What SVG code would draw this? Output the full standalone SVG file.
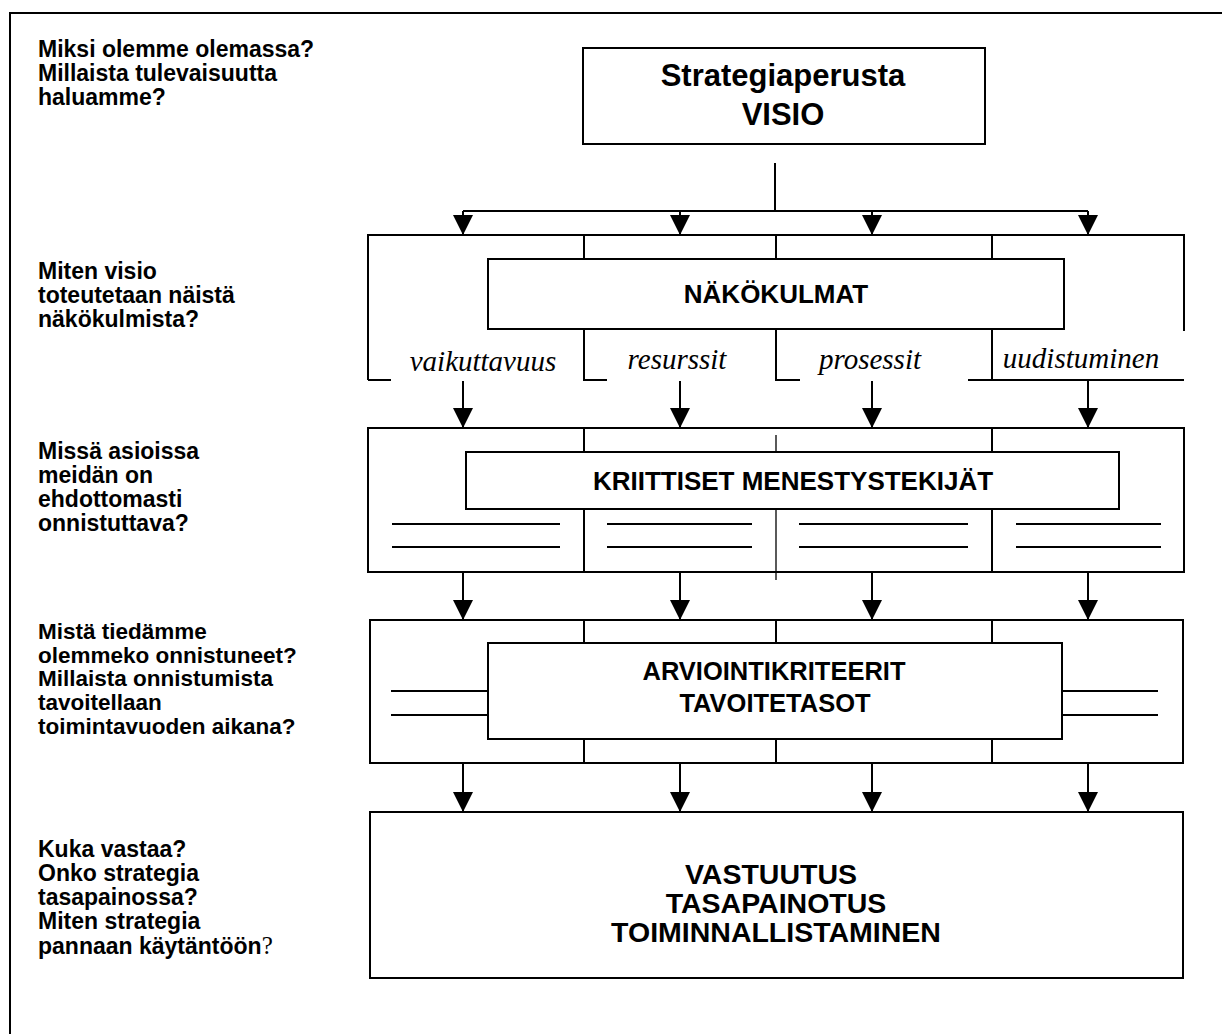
<svg xmlns="http://www.w3.org/2000/svg" width="1222" height="1034" viewBox="0 0 1222 1034">
<style>
.ln{stroke:#000;stroke-width:2;fill:none}
.thin{stroke:#000;stroke-width:1.3;fill:none}
.box{stroke:#000;stroke-width:2;fill:#fff}
.q{font-family:"Liberation Sans",Arial,sans-serif;font-weight:bold;font-size:23px;fill:#000}
.t{font-family:"Liberation Sans",Arial,sans-serif;font-weight:bold;fill:#000;text-anchor:middle}
.it{font-family:"Liberation Serif","Times New Roman",serif;font-style:italic;font-size:29px;fill:#000;text-anchor:middle}
.wb{fill:#fff;stroke:none}
</style>
<defs>
<marker id="ah" viewBox="0 0 20 20" refX="20" refY="10" markerWidth="20" markerHeight="20" markerUnits="userSpaceOnUse" orient="auto">
<path d="M0,0 L20,10 L0,20 z" fill="#000"/>
</marker>
</defs>
<rect width="1222" height="1034" fill="#fff"/>
<path class="ln" d="M10,1040 V13 H1230"/>

<g id="questions">
<text class="q" x="38" y="57">Miksi olemme olemassa?<tspan x="38" dy="24">Millaista tulevaisuutta</tspan><tspan x="38" dy="24">haluamme?</tspan></text>
<text class="q" x="38" y="279">Miten visio<tspan x="38" dy="24">toteutetaan näistä</tspan><tspan x="38" dy="24">näkökulmista?</tspan></text>
<text class="q" x="38" y="459">Missä asioissa<tspan x="38" dy="24">meidän on</tspan><tspan x="38" dy="24">ehdottomasti</tspan><tspan x="38" dy="24">onnistuttava?</tspan></text>
<text class="q" x="38" y="639" style="font-size:22.5px">Mistä tiedämme<tspan x="38" dy="23.7">olemmeko onnistuneet?</tspan><tspan x="38" dy="23.7">Millaista onnistumista</tspan><tspan x="38" dy="23.7">tavoitellaan</tspan><tspan x="38" dy="23.7">toimintavuoden aikana?</tspan></text>
<text class="q" x="38" y="857">Kuka vastaa?<tspan x="38" dy="24">Onko strategia</tspan><tspan x="38" dy="24">tasapainossa?</tspan><tspan x="38" dy="24">Miten strategia</tspan><tspan x="38" dy="25">pannaan käytäntöön<tspan style="font-family:'Liberation Serif',serif;font-weight:normal;font-size:25px">?</tspan></tspan></text>
</g>

<g id="visio">
<rect class="box" x="583" y="48" width="402" height="96"/>
<text class="t" x="783" y="86" font-size="31">Strategiaperusta</text>
<text class="t" x="783" y="125" font-size="31">VISIO</text>
</g>

<g id="nakokulmat">
<path class="ln" d="M368,380 V235 H1184 V331 M584,235 V259 M776,235 V259 M992,235 V259 M584,329 V380 M776,329 V380 M992,329 V380 M368,380 H1184"/>
<rect class="box" x="488" y="259" width="576" height="70"/>
<text class="t" x="776" y="303" font-size="26">NÄKÖKULMAT</text>
<rect class="wb" x="391" y="333" width="192" height="48"/>
<rect class="wb" x="607" y="333" width="168" height="48"/>
<rect class="wb" x="800" y="333" width="168" height="48"/>
<rect class="wb" x="993" y="331" width="194" height="48"/>
<text class="it" x="483" y="371">vaikuttavuus</text>
<text class="it" x="677" y="369">resurssit</text>
<text class="it" x="870" y="369">prosessit</text>
<text class="it" x="1081" y="368">uudistuminen</text>
</g>

<g id="kriittiset">
<rect class="box" x="368" y="428" width="816" height="144"/>
<path class="ln" d="M584,428 V572 M992,428 V572"/>
<path class="thin" d="M776,435 V580"/>
<rect class="box" x="466" y="452" width="653" height="57"/>
<text class="t" x="793" y="490" font-size="26">KRIITTISET MENESTYSTEKIJÄT</text>
<path class="ln" d="M392,524 H560 M392,547 H560 M607,524 H752 M607,547 H752 M799,524 H968 M799,547 H968 M1016,524 H1161 M1016,547 H1161"/>
</g>

<g id="arviointi">
<rect class="box" x="370" y="620" width="813" height="143"/>
<path class="ln" d="M584,620 V643 M776,620 V643 M992,620 V643 M584,739 V763 M776,739 V763 M992,739 V763 M391,691 H488 M391,715 H488 M1062,691 H1158 M1062,715 H1158"/>
<rect class="box" x="488" y="643" width="574" height="96"/>
<text class="t" x="774" y="680" font-size="25.5">ARVIOINTIKRITEERIT</text>
<text class="t" x="775" y="712" font-size="25.5">TAVOITETASOT</text>
</g>

<g id="vastuutus">
<rect class="box" x="370" y="812" width="813" height="166"/>
<text class="t" x="771" y="884" font-size="28.5">VASTUUTUS</text>
<text class="t" x="776" y="913" font-size="28.5">TASAPAINOTUS</text>
<text class="t" x="776" y="942" font-size="28.5">TOIMINNALLISTAMINEN</text>
</g>

<g id="connectors">
<path class="ln" d="M775,163 V211 M463,211 H1088"/>
<path class="ln" marker-end="url(#ah)" d="M463,211 V235"/>
<path class="ln" marker-end="url(#ah)" d="M680,211 V235"/>
<path class="ln" marker-end="url(#ah)" d="M872,211 V235"/>
<path class="ln" marker-end="url(#ah)" d="M1088,211 V235"/>
<path class="ln" marker-end="url(#ah)" d="M463,381 V428"/>
<path class="ln" marker-end="url(#ah)" d="M680,381 V428"/>
<path class="ln" marker-end="url(#ah)" d="M872,381 V428"/>
<path class="ln" marker-end="url(#ah)" d="M1088,381 V428"/>
<path class="ln" marker-end="url(#ah)" d="M463,572 V620"/>
<path class="ln" marker-end="url(#ah)" d="M680,572 V620"/>
<path class="ln" marker-end="url(#ah)" d="M872,572 V620"/>
<path class="ln" marker-end="url(#ah)" d="M1088,572 V620"/>
<path class="ln" marker-end="url(#ah)" d="M463,763 V812"/>
<path class="ln" marker-end="url(#ah)" d="M680,763 V812"/>
<path class="ln" marker-end="url(#ah)" d="M872,763 V812"/>
<path class="ln" marker-end="url(#ah)" d="M1088,763 V812"/>
</g>
</svg>
